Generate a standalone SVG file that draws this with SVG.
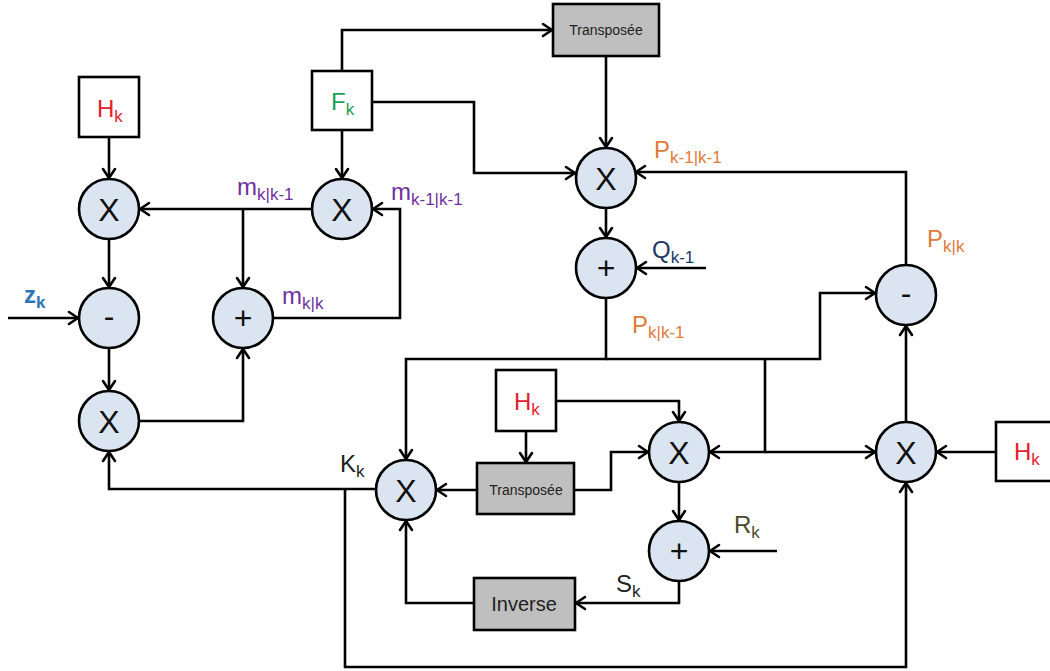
<svg xmlns="http://www.w3.org/2000/svg" width="1050" height="671" viewBox="0 0 1050 671">
  <defs>
    <style>
      .op { fill: #dbe5f1; stroke: #000; stroke-width: 2.6; }
      .box { fill: #ffffff; stroke: #000; stroke-width: 2.6; }
      .gbox { fill: #bfbfbf; stroke: #000; stroke-width: 2.6; }
      .wire { fill: none; stroke: #000; stroke-width: 2.6; stroke-linejoin: miter; }
      .arr { marker-end: url(#head); }
      text { font-family: "Liberation Sans", Arial, sans-serif; }
      .sym { font-size: 32px; text-anchor: middle; fill: #111; }
      .lbl { font-size: 24px; }
      .sub { font-size: 17px; }
      .tr { font-size: 14px; text-anchor: middle; fill: #222; }
      .inv { font-size: 20px; text-anchor: middle; fill: #222; }
      .red { fill: #e3202e; }
      .green { fill: #1aa050; }
      .purple { fill: #7030a0; }
      .orange { fill: #e07b39; }
      .navy { fill: #203864; }
      .blue { fill: #2e75b6; font-weight: bold; }
      .olive { fill: #4a4a2a; }
      .dark { fill: #222; }
    </style>
    <marker id="head" markerUnits="userSpaceOnUse" markerWidth="14" markerHeight="16" viewBox="-11 -8 13 16" refX="0" refY="0" orient="auto">
      <path d="M-9,-6 L0,0 L-9,6" fill="none" stroke="#000" stroke-width="2.6" stroke-linecap="round" stroke-linejoin="round"/>
    </marker>
  </defs>

  <!-- connectors -->
  <g id="connectors">
    <!-- measurement update branch -->
    <path class="wire arr" d="M109,137 V178"/>
    <path class="wire arr" d="M109,239 V287"/>
    <path class="wire arr" d="M109,348 V390"/>
    <path class="wire arr" d="M8,318 H78"/>
    <path class="wire arr" d="M139,421 H243 V349"/>
    <path class="wire arr" d="M273,318 H400 V209 H373"/>
    <path class="wire arr" d="M312,209 H140"/>
    <path class="wire arr" d="M243,209 V287"/>
    <!-- state transition -->
    <path class="wire arr" d="M342,130 V178"/>
    <path class="wire arr" d="M342,71 V30 H552"/>
    <path class="wire arr" d="M372,102 H474 V173 H575"/>
    <path class="wire arr" d="M606,56 V147"/>
    <!-- covariance prediction -->
    <path class="wire arr" d="M906,265 V172 H636"/>
    <path class="wire arr" d="M606,208 V237"/>
    <path class="wire arr" d="M706,268 H637"/>
    <path class="wire arr" d="M606,298 V359 H406 V459"/>
    <path class="wire arr" d="M606,359 H820 V293 H875"/>
    <path class="wire arr" d="M765,359 V452 H710"/>
    <path class="wire arr" d="M765,452 H875"/>
    <path class="wire arr" d="M906,422 V326"/>
    <path class="wire arr" d="M996,452 H937"/>
    <!-- innovation covariance and gain -->
    <path class="wire arr" d="M556,401 H679 V421"/>
    <path class="wire arr" d="M526,431 V462"/>
    <path class="wire arr" d="M477,490 H437"/>
    <path class="wire arr" d="M574,490 H611 V452 H648"/>
    <path class="wire arr" d="M679,482 V520"/>
    <path class="wire arr" d="M777,551 H710"/>
    <path class="wire arr" d="M679,581 V603 H576"/>
    <path class="wire arr" d="M474,603 H406 V521"/>
    <path class="wire arr" d="M376,489 H109 V452"/>
    <path class="wire arr" d="M345,489 V667 H906 V483"/>
  </g>

  <!-- input matrices -->
  <g id="H-top">
    <rect class="box" x="79" y="77" width="60" height="60"/>
    <text class="lbl red" x="97" y="117">H<tspan class="sub" dy="5">k</tspan></text>
  </g>
  <g id="F">
    <rect class="box" x="312" y="71" width="60" height="59"/>
    <text class="lbl green" x="331" y="110">F<tspan class="sub" dy="5">k</tspan></text>
  </g>
  <g id="H-mid">
    <rect class="box" x="496" y="370" width="60" height="61"/>
    <text class="lbl red" x="514" y="410">H<tspan class="sub" dy="5">k</tspan></text>
  </g>
  <g id="H-right">
    <rect class="box" x="996" y="422" width="61" height="59"/>
    <text class="lbl red" x="1014" y="460">H<tspan class="sub" dy="5">k</tspan></text>
  </g>

  <!-- processing blocks -->
  <g id="transpose-F">
    <rect class="gbox" x="553" y="4" width="106" height="52"/>
    <text class="tr" x="606" y="35">Transposée</text>
  </g>
  <g id="transpose-H">
    <rect class="gbox" x="477" y="463" width="97" height="51"/>
    <text class="tr" x="526" y="495">Transposée</text>
  </g>
  <g id="inverse">
    <rect class="gbox" x="474" y="578" width="101" height="52"/>
    <text class="inv" x="524" y="611">Inverse</text>
  </g>

  <!-- operators -->
  <g id="mul-Hm">
    <circle class="op" cx="109" cy="209" r="30"/>
    <text class="sym" x="109" y="221">X</text>
  </g>
  <g id="sub-z">
    <circle class="op" cx="109" cy="318" r="30"/>
    <text class="sym" x="109" y="327">-</text>
  </g>
  <g id="mul-K">
    <circle class="op" cx="109" cy="421" r="30"/>
    <text class="sym" x="109" y="433">X</text>
  </g>
  <g id="add-m">
    <circle class="op" cx="243" cy="318" r="30"/>
    <text class="sym" x="243" y="329">+</text>
  </g>
  <g id="mul-Fm">
    <circle class="op" cx="342" cy="209" r="30"/>
    <text class="sym" x="342" y="221">X</text>
  </g>
  <g id="mul-FPFt">
    <circle class="op" cx="606" cy="178" r="30"/>
    <text class="sym" x="606" y="190">X</text>
  </g>
  <g id="add-Q">
    <circle class="op" cx="606" cy="268" r="30"/>
    <text class="sym" x="606" y="279">+</text>
  </g>
  <g id="sub-P">
    <circle class="op" cx="906" cy="295" r="30"/>
    <text class="sym" x="906" y="304">-</text>
  </g>
  <g id="mul-gain">
    <circle class="op" cx="406" cy="490" r="30"/>
    <text class="sym" x="406" y="502">X</text>
  </g>
  <g id="mul-HP">
    <circle class="op" cx="679" cy="452" r="30"/>
    <text class="sym" x="679" y="464">X</text>
  </g>
  <g id="add-R">
    <circle class="op" cx="679" cy="551" r="30"/>
    <text class="sym" x="679" y="562">+</text>
  </g>
  <g id="mul-KHP">
    <circle class="op" cx="906" cy="452" r="30"/>
    <text class="sym" x="906" y="464">X</text>
  </g>

  <!-- signal labels -->
  <g id="labels">
    <text class="lbl purple" x="237" y="195">m<tspan class="sub" dy="5">k|k-1</tspan></text>
    <text class="lbl purple" x="391" y="200">m<tspan class="sub" dy="5">k-1|k-1</tspan></text>
    <text class="lbl purple" x="282" y="304">m<tspan class="sub" dy="5">k|k</tspan></text>
    <text class="lbl blue" x="24" y="303">z<tspan class="sub" dy="5">k</tspan></text>
    <text class="lbl orange" x="654" y="158">P<tspan class="sub" dy="5">k-1|k-1</tspan></text>
    <text class="lbl orange" x="927" y="247">P<tspan class="sub" dy="5">k|k</tspan></text>
    <text class="lbl navy" x="652" y="258">Q<tspan class="sub" dy="5">k-1</tspan></text>
    <text class="lbl orange" x="632" y="333">P<tspan class="sub" dy="5">k|k-1</tspan></text>
    <text class="lbl dark" x="340" y="472">K<tspan class="sub" dy="5">k</tspan></text>
    <text class="lbl olive" x="734" y="533">R<tspan class="sub" dy="5">k</tspan></text>
    <text class="lbl dark" x="616" y="592">S<tspan class="sub" dy="5">k</tspan></text>
  </g>
</svg>
